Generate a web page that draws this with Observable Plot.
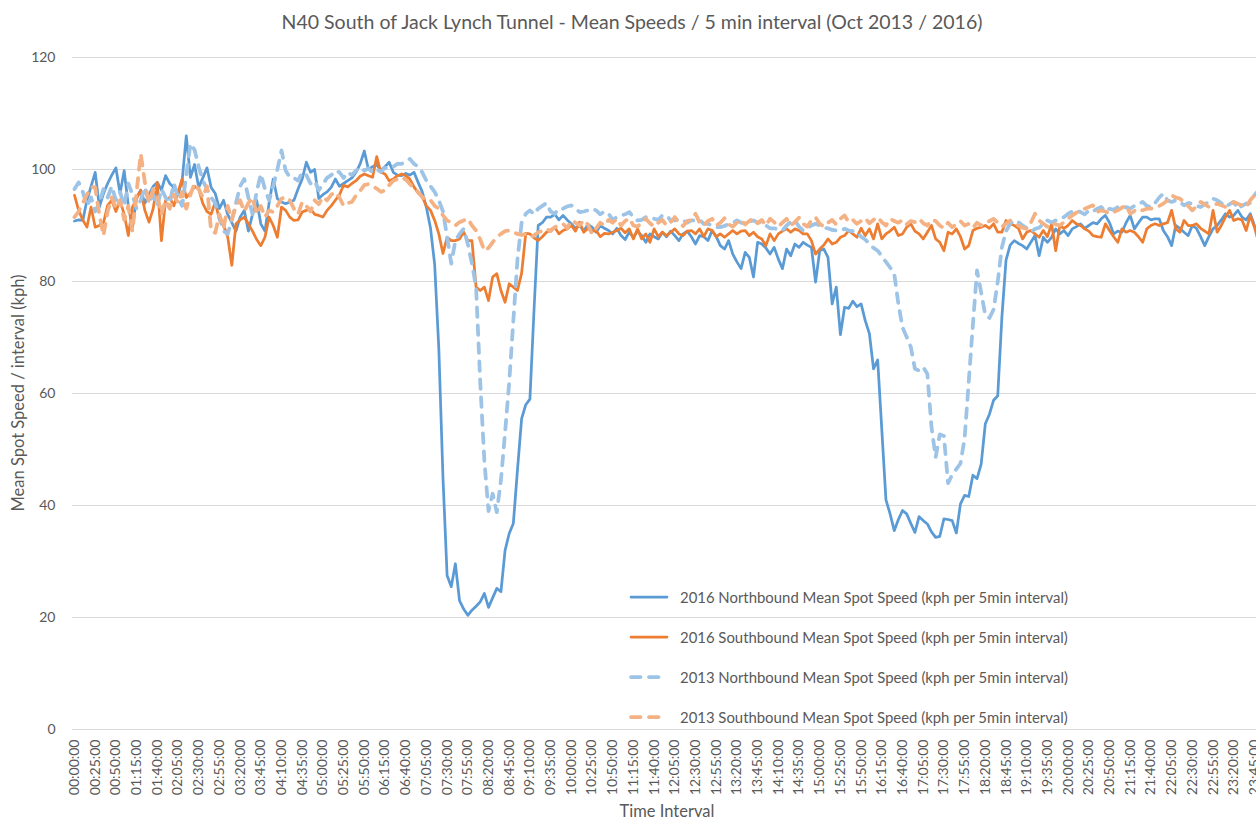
<!DOCTYPE html>
<html><head><meta charset="utf-8">
<script src="https://cdn.jsdelivr.net/npm/d3@7"></script>
<script src="https://cdn.jsdelivr.net/npm/@observablehq/plot@0.6"></script>
<style>
html,body{margin:0;padding:0;background:#fff;overflow:hidden;}
#wrap{position:relative;width:1256px;height:821px;font-family:Lato,"Open Sans",sans-serif;color:#595959;overflow:hidden;}
#title{position:absolute;left:0;width:1264px;top:10px;text-align:center;font-size:19.5px;line-height:24px;}
#chart{position:absolute;left:0;top:44px;}
#ylab{position:absolute;left:18px;top:393px;transform:translate(-50%,-50%) rotate(-90deg);white-space:nowrap;font-size:16.5px;line-height:18px;}
#xlab{position:absolute;left:667px;top:811px;transform:translate(-50%,-50%);font-size:16.5px;line-height:17px;white-space:nowrap;}
.item{position:absolute;left:628px;height:24px;line-height:24px;white-space:nowrap;font-size:14.9px;display:flex;align-items:center;}
.item svg{margin-right:10px;}
</style></head>
<body>
<div id="wrap">
<div id="title">N40 South of Jack Lynch Tunnel - Mean Speeds / 5 min interval (Oct 2013 / 2016)</div>
<div id="chart"></div>
<div id="ylab">Mean Spot Speed / interval (kph)</div>
<div id="xlab">Time Interval</div>
<div id="legend"></div>
</div>
<script>
// categories: 5-minute intervals of one day
const times = d3.range(288).map(k => {
  const m = k * 5;
  return String(Math.floor(m / 60)).padStart(2, "0") + ":" + String(m % 60).padStart(2, "0") + ":00";
});

const tickLabels = ["00:00:00","00:25:00","00:50:00","01:15:00","01:40:00","02:05:00","02:30:00","02:55:00","03:20:00","03:45:00","04:10:00","04:35:00","05:00:00","05:25:00","05:50:00","06:15:00","06:40:00","07:05:00","07:30:00","07:55:00","08:20:00","08:45:00","09:10:00","09:35:00","10:00:00","10:25:00","10:50:00","11:15:00","11:40:00","12:05:00","12:30:00","12:55:00","13:20:00","13:45:00","14:10:00","14:35:00","15:00:00","15:25:00","15:50:00","16:15:00","16:40:00","17:05:00","17:30:00","17:55:00","18:20:00","18:45:00","19:10:00","19:35:00","20:00:00","20:25:00","20:50:00","21:15:00","21:40:00","22:05:00","22:30:00","22:55:00","23:20:00","23:45:00"];

const yTicks = [0, 20, 40, 60, 80, 100, 120];

const names = [
  "2016 Northbound Mean Spot Speed (kph per 5min interval)",
  "2016 Southbound Mean Spot Speed (kph per 5min interval)",
  "2013 Northbound Mean Spot Speed (kph per 5min interval)",
  "2013 Southbound Mean Spot Speed (kph per 5min interval)"
];

const nb2016 = [
90.8, 91.0, 90.9, 94.5, 97.0, 99.5, 93.3, 95.7, 97.5, 99.0,
100.3, 95.7, 99.8, 93.5, 89.7, 95.0, 96.3, 94.0, 95.5, 97.0,
97.7, 96.3, 98.9, 97.5, 96.8, 95.5, 98.0, 106.0, 98.6, 100.9,
96.8, 98.5, 100.3, 96.8, 95.7, 93.0, 94.5, 92.0, 90.5, 89.0,
91.5, 92.7, 89.0, 92.0, 94.5, 90.3, 89.0, 94.0, 98.3, 94.8,
94.2, 93.9, 94.2, 94.5, 96.5, 98.3, 101.3, 99.5, 100.0, 94.8,
95.5, 96.0, 96.8, 98.3, 97.0, 97.5, 98.0, 98.5, 99.5, 101.0,
103.3, 100.0, 100.5, 100.9, 99.8, 100.5, 101.3, 99.5, 99.0, 98.9,
99.3, 99.0, 99.5, 97.7, 96.0, 93.2, 89.5, 83.0, 68.0, 45.0,
27.5, 25.5, 29.6, 23.0, 21.5, 20.4, 21.3, 22.0, 22.8, 24.3,
21.8, 23.5, 25.2, 24.6, 32.0, 35.0, 36.8, 46.4, 55.5, 58.0,
59.0, 75.0, 90.0, 90.5, 91.5, 91.5, 92.0, 91.0, 91.8, 91.0,
90.3, 89.5, 90.0, 89.0, 90.2, 89.7, 88.8, 90.0, 89.5, 89.1,
88.5, 89.5, 88.2, 87.5, 88.8, 87.9, 89.0, 88.2, 87.0, 88.5,
88.0, 87.6, 88.8, 88.0, 89.0, 88.2, 87.3, 88.5, 89.0, 88.0,
86.7, 88.2, 88.0, 87.3, 89.1, 88.0, 86.4, 85.8, 87.3, 84.9,
83.5, 82.3, 85.2, 84.3, 80.8, 87.0, 86.7, 86.0, 84.9, 86.1,
84.0, 82.3, 85.8, 84.6, 86.7, 86.1, 87.0, 86.5, 86.1, 79.9,
85.5, 85.8, 84.3, 76.0, 79.0, 70.5, 75.4, 75.2, 76.5, 75.5,
76.0, 73.0, 70.7, 64.4, 66.0, 53.5, 41.0, 38.5, 35.5, 37.5,
39.1, 38.5, 36.8, 35.2, 38.0, 37.3, 36.7, 35.3, 34.3, 34.5,
37.6, 37.5, 37.3, 35.1, 40.3, 41.8, 41.6, 45.4, 44.8, 47.4,
54.6, 56.3, 58.8, 59.6, 73.6, 83.8, 86.5, 87.3, 86.8, 86.4,
85.8, 87.0, 88.2, 84.6, 87.9, 87.0, 87.9, 89.4, 88.5, 89.1,
88.2, 89.4, 89.8, 90.3, 89.5, 90.0, 90.5, 90.3, 91.2, 91.8,
90.5, 88.5, 89.0, 88.8, 90.5, 91.8, 89.4, 90.5, 91.5, 91.5,
91.0, 91.2, 91.2, 89.1, 88.0, 86.4, 90.0, 89.5, 88.8, 88.2,
90.0, 89.5, 88.0, 86.4, 88.0, 89.4, 90.0, 91.0, 92.1, 91.5,
91.8, 92.7, 91.5, 91.0, 92.1, 90.0, 88.5, 88.0
];

const sb2016 = [
95.4, 92.7, 91.0, 89.7, 93.3, 89.7, 90.0, 90.5, 93.6, 94.5,
92.5, 94.5, 92.0, 88.2, 93.3, 94.8, 96.3, 92.7, 90.6, 93.0,
97.7, 87.3, 94.5, 95.0, 93.5, 96.0, 98.3, 95.0, 95.8, 97.0,
96.5, 93.9, 92.5, 92.0, 94.2, 91.0, 90.0, 88.0, 82.9, 90.3,
91.0, 91.5, 90.3, 89.0, 87.5, 86.4, 87.9, 91.5, 90.0, 87.9,
93.3, 92.7, 91.5, 90.9, 91.0, 92.4, 92.7, 93.0, 92.0, 91.8,
91.5, 92.7, 93.5, 94.5, 95.5, 97.2, 96.9, 97.5, 98.0, 98.8,
99.2, 98.9, 98.6, 102.3, 99.5, 99.2, 98.0, 98.3, 98.9, 99.2,
98.9, 98.3, 96.9, 95.8, 95.1, 93.5, 92.7, 90.9, 88.5, 85.0,
87.9, 87.3, 87.3, 87.6, 88.8, 87.3, 87.3, 79.0, 78.4, 79.0,
76.6, 80.8, 81.4, 78.4, 76.3, 79.6, 79.0, 78.4, 81.5, 88.6,
88.5, 87.8, 87.3, 88.0, 88.8, 89.2, 89.7, 88.5, 89.1, 89.4,
90.0, 89.0, 90.6, 88.8, 89.5, 89.0, 89.1, 88.0, 88.6, 88.5,
88.8, 89.1, 89.5, 88.7, 89.4, 87.6, 89.4, 87.6, 88.5, 87.0,
89.4, 88.0, 88.8, 88.2, 88.8, 89.4, 88.5, 88.2, 89.0, 89.1,
88.5, 89.4, 88.0, 89.4, 89.1, 88.0, 88.5, 87.9, 88.5, 89.1,
88.5, 89.0, 89.1, 88.2, 88.8, 88.0, 87.6, 86.4, 88.5, 87.3,
88.5, 89.0, 89.4, 88.8, 89.4, 89.1, 88.5, 88.5, 87.3, 84.9,
85.8, 86.5, 87.6, 86.7, 87.0, 87.9, 88.2, 89.1, 88.5, 87.9,
89.5, 88.2, 89.4, 87.6, 90.3, 87.6, 88.5, 89.0, 89.7, 88.2,
88.5, 89.7, 90.3, 89.0, 88.5, 87.6, 88.8, 90.0, 87.6, 87.0,
85.5, 88.8, 88.5, 89.4, 88.0, 85.8, 86.4, 89.1, 89.5, 89.7,
90.0, 89.5, 90.3, 88.8, 88.8, 90.9, 90.3, 90.0, 89.5, 87.6,
88.8, 89.1, 88.5, 87.9, 89.1, 88.0, 90.3, 85.5, 90.0, 89.5,
90.0, 90.9, 90.3, 90.0, 89.4, 89.0, 88.2, 88.0, 87.9, 90.3,
89.1, 88.0, 87.0, 89.4, 88.8, 89.1, 88.8, 88.0, 87.0, 89.4,
90.0, 90.3, 90.0, 90.3, 90.5, 92.7, 89.4, 88.8, 90.9, 90.0,
90.0, 90.3, 89.5, 89.0, 88.5, 92.7, 88.8, 90.0, 91.5, 92.7,
90.9, 91.2, 91.0, 89.1, 91.8, 89.7, 87.0, 86.5
];

const nb2013 = [
96.5, 97.7, 96.0, 93.5, 95.0, 92.5, 94.0, 96.5, 95.0, 97.0,
94.5, 96.0, 93.5, 97.5, 95.5, 93.0, 94.5, 96.8, 94.0, 95.5,
93.5, 96.5, 95.0, 94.0, 97.5, 95.0, 93.5, 99.0, 104.6, 103.5,
100.5, 98.0, 96.5, 95.0, 94.0, 91.5, 89.0, 88.5, 91.0, 94.0,
97.0, 98.3, 95.0, 92.0, 96.0, 99.2, 96.5, 94.5, 97.0, 100.0,
103.4, 99.8, 98.6, 98.5, 98.0, 99.5, 99.0, 97.5, 98.0, 96.3,
97.4, 98.5, 99.0, 99.8, 99.5, 98.5, 99.5, 99.0, 99.8, 100.4,
99.8, 100.2, 99.5, 100.0, 99.6, 100.3, 100.1, 100.5, 101.0, 101.0,
101.5, 101.9, 101.0, 100.5, 99.5, 98.0, 97.0, 96.0, 94.5, 92.5,
88.0, 83.2, 87.3, 88.5, 89.4, 86.7, 83.2, 79.0, 62.0, 48.0,
39.0, 42.1, 38.8, 44.5, 53.0, 62.0, 73.0, 84.0, 90.5, 92.1,
92.7, 92.0, 93.0, 93.5, 94.0, 92.5, 92.1, 93.0, 93.0, 93.4,
93.6, 93.0, 92.4, 92.5, 92.7, 93.0, 92.7, 92.0, 92.5, 92.1,
91.0, 91.5, 91.8, 92.0, 92.4, 91.5, 90.9, 91.0, 91.5, 91.5,
91.2, 91.0, 91.8, 91.8, 90.9, 90.9, 91.2, 90.9, 90.5, 90.9,
90.9, 91.0, 90.3, 90.3, 90.0, 89.7, 89.7, 89.9, 90.3, 90.5,
90.9, 90.5, 90.3, 90.7, 90.9, 90.5, 90.6, 90.0, 89.5, 89.5,
89.3, 89.1, 90.0, 90.6, 90.9, 89.8, 89.1, 89.5, 90.0, 90.3,
90.0, 89.6, 89.5, 89.2, 89.1, 89.1, 89.4, 89.1, 89.0, 88.8,
88.0, 87.5, 86.7, 86.0, 85.5, 84.5, 83.5, 82.5, 81.4, 76.0,
71.8, 70.1, 68.3, 64.4, 64.1, 64.7, 63.5, 54.0, 48.6, 52.7,
52.4, 44.0, 45.5, 46.5, 47.5, 52.0, 62.2, 72.3, 82.0, 78.0,
74.0, 73.5, 75.0, 80.0, 86.1, 89.0, 90.3, 90.9, 90.6, 90.0,
89.5, 88.8, 89.4, 89.6, 90.3, 90.9, 90.5, 90.9, 91.2, 91.5,
92.1, 92.5, 92.7, 92.4, 92.0, 92.7, 92.5, 93.0, 93.3, 92.5,
93.0, 92.8, 93.3, 93.0, 93.3, 93.0, 93.5, 93.8, 94.2, 93.5,
93.3, 94.0, 95.0, 95.7, 94.5, 94.2, 94.5, 94.2, 93.6, 94.0,
93.9, 93.5, 93.3, 93.8, 94.2, 94.8, 94.5, 94.0, 93.3, 93.8,
94.2, 93.0, 93.5, 93.9, 94.0, 95.4, 96.3, 96.0
];

const sb2013 = [
91.5, 92.5, 94.0, 95.5, 96.9, 96.8, 92.0, 88.2, 92.5, 95.0,
93.0, 94.5, 91.0, 93.5, 89.0, 96.0, 102.8, 97.7, 94.0, 96.5,
95.3, 92.0, 94.5, 93.0, 95.5, 94.0, 96.0, 93.0, 95.5, 97.5,
96.5, 95.0, 97.0, 89.0, 88.7, 92.0, 89.5, 93.5, 91.0, 93.5,
94.5, 92.5, 94.0, 95.0, 92.0, 93.5, 91.5, 92.7, 92.4, 93.5,
94.8, 95.1, 94.5, 93.0, 92.0, 94.2, 93.5, 92.5, 94.5, 93.8,
95.1, 94.5, 95.5, 96.0, 95.0, 93.5, 94.0, 94.2, 95.4, 96.2,
97.2, 97.4, 97.0, 96.6, 96.0, 96.3, 97.2, 98.0, 98.3, 98.6,
98.2, 97.4, 96.6, 96.0, 95.1, 94.5, 94.5, 93.5, 93.0, 91.8,
90.9, 90.5, 90.0, 90.6, 90.9, 91.2, 90.0, 89.1, 87.5, 85.5,
86.0, 87.0, 87.9, 88.5, 89.0, 89.1, 88.8, 88.5, 88.3, 88.5,
88.0, 88.2, 88.8, 89.0, 89.4, 89.0, 89.7, 90.0, 90.3, 89.5,
90.9, 90.5, 90.0, 91.0, 90.2, 88.5, 89.5, 90.5, 90.0, 91.0,
90.5, 91.2, 90.0, 90.8, 91.3, 90.0, 89.8, 90.5, 91.2, 90.4,
89.8, 90.5, 91.0, 90.0, 90.6, 91.5, 90.3, 89.9, 90.8, 91.0,
92.1, 90.5, 90.0, 90.8, 91.2, 90.0, 90.5, 91.3, 90.2, 89.8,
90.5, 91.0, 90.2, 90.8, 91.3, 90.4, 91.0, 90.0, 91.2, 90.6,
89.8, 90.5, 91.2, 90.0, 90.6, 91.4, 90.3, 89.8, 90.9, 91.5,
90.3, 89.8, 90.5, 91.0, 90.2, 91.2, 91.8, 90.6, 91.0, 90.3,
90.8, 91.3, 90.4, 91.0, 91.5, 90.6, 90.0, 91.2, 90.8, 90.5,
91.0, 90.2, 90.8, 90.6, 91.2, 90.4, 90.0, 91.0, 90.8, 90.0,
89.5, 90.5, 89.7, 90.2, 90.8, 90.0, 90.3, 89.6, 90.5, 90.0,
90.3, 90.8, 91.2, 90.5, 89.8, 90.3, 90.9, 90.4, 90.0, 89.6,
89.4, 90.5, 92.1, 90.9, 90.3, 89.8, 90.5, 90.2, 90.0, 90.6,
91.2, 91.8, 92.3, 92.7, 93.0, 93.3, 93.6, 92.4, 92.7, 92.5,
92.1, 92.4, 92.7, 93.2, 93.6, 92.1, 92.6, 93.0, 92.7, 93.0,
93.0, 93.3, 93.5, 93.9, 94.5, 95.4, 95.0, 94.8, 94.2, 93.5,
92.7, 93.5, 94.2, 93.8, 93.3, 93.6, 93.9, 93.6, 93.3, 93.8,
94.2, 93.9, 93.6, 93.3, 94.5, 95.4, 96.3, 96.0
];

const series = [
  {name: names[0], values: nb2016, color: "#5B9BD5", width: 2.75, dash: null},
  {name: names[1], values: sb2016, color: "#ED7D31", width: 2.75, dash: null},
  {name: names[2], values: nb2013, color: "#9DC3E6", width: 3.75, dash: "9.5,8.5"},
  {name: names[3], values: sb2013, color: "#F4B183", width: 3.75, dash: "9.5,8.5"}
];

const chart = Plot.plot({
  width: 1256,
  height: 777,
  marginLeft: 72,
  marginRight: 0,
  marginTop: 13,
  marginBottom: 92,
  style: {fontFamily: "Lato, 'Open Sans', sans-serif", color: "#595959", background: "white"},
  x: {type: "point", domain: times, range: [74, 1262.2], padding: 0},
  y: {domain: [0, 120]},
  marks: [
    Plot.gridY(yTicks, {stroke: "#D9D9D9", strokeOpacity: 1, strokeWidth: 1}),
    Plot.axisY(yTicks, {tickSize: 0, tickPadding: 17, label: null, fontSize: 14}),
    Plot.axisX(tickLabels, {tickRotate: -90, tickSize: 0, tickPadding: 10, label: null, fontSize: 14}),
    ...series.map(s => Plot.line(s.values.map((v, k) => ({time: times[k], v})), {
      x: "time", y: "v", stroke: s.color, strokeWidth: s.width,
      strokeDasharray: s.dash || undefined, strokeLinecap: "round", strokeLinejoin: "round"
    }))
  ]
});
document.getElementById("chart").appendChild(chart);

// legend (inside plot area, as in the original)
const legend = document.getElementById("legend");
const legendY = [597, 637, 677, 717];
series.forEach((s, k) => {
  const div = document.createElement("div");
  div.className = "item";
  div.style.top = (legendY[k] - 12) + "px";
  const dash = s.dash ? `stroke-dasharray="9.5,8.5"` : "";
  div.innerHTML = `<svg width="42" height="10"><line x1="3" y1="5" x2="39" y2="5" stroke="${s.color}" stroke-width="${s.width}" stroke-linecap="round" ${dash}/></svg><span>${s.name}</span>`;
  legend.appendChild(div);
});
</script>
</body></html>
